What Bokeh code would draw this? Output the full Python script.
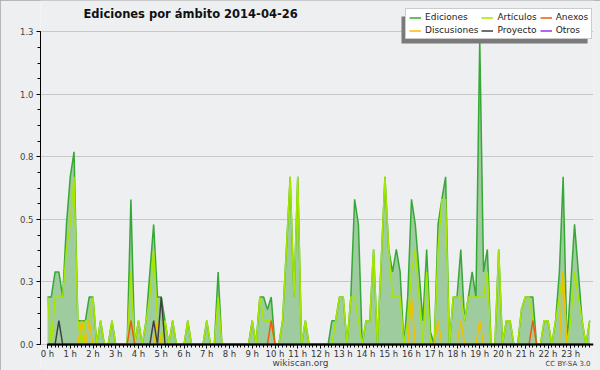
import math
from bokeh.plotting import figure
from bokeh.models import Range1d, FixedTicker, Label, Legend, LegendItem, BoxAnnotation
from bokeh.embed import file_html
from bokeh.resources import INLINE

# ---- data: edits per minute, 10-minute bins over 2014-04-26 ----
ediciones = [
    0.19, 0.19, 0.29, 0.29, 0.19, 0.48, 0.67, 0.77, 0.095, 0.095,
    0.095, 0.19, 0.19, 0, 0.095, 0, 0, 0.095, 0, 0,
    0, 0, 0.58, 0, 0.095, 0, 0.095, 0.29, 0.48, 0.19,
    0.19, 0.095, 0, 0.095, 0, 0, 0, 0.095, 0, 0,
    0, 0, 0.095, 0, 0, 0.29, 0, 0, 0, 0,
    0, 0, 0, 0, 0.095, 0, 0.19, 0.19, 0.14, 0.19,
    0, 0, 0.095, 0.38, 0.67, 0.19, 0.67, 0, 0.095, 0,
    0, 0, 0, 0, 0, 0.095, 0.095, 0.19, 0.19, 0,
    0.19, 0.58, 0.48, 0, 0.095, 0.095, 0.38, 0, 0.33, 0.67,
    0.38, 0.29, 0.38, 0.29, 0, 0.19, 0.58, 0.48, 0.29, 0.095,
    0.38, 0.05, 0, 0.48, 0.58, 0.67, 0, 0.19, 0.19, 0.38,
    0.095, 0.19, 0.29, 0.19, 1.22, 0.29, 0.38, 0, 0, 0.38,
    0, 0.095, 0.095, 0, 0, 0.14, 0.19, 0.19, 0.19, 0,
    0, 0.095, 0.095, 0, 0.095, 0.29, 0.67, 0, 0.24, 0.48,
    0.29, 0.095, 0, 0.095,
]
articulos = [
    0.19, 0, 0.19, 0.19, 0.19, 0.38, 0.48, 0.67, 0.095, 0,
    0.095, 0.095, 0.19, 0, 0.095, 0, 0, 0.095, 0, 0,
    0, 0, 0.29, 0, 0.095, 0, 0.095, 0.19, 0.38, 0.095,
    0, 0.095, 0, 0.095, 0, 0, 0, 0.095, 0, 0,
    0, 0, 0.095, 0, 0, 0.19, 0, 0, 0, 0,
    0, 0, 0, 0, 0.095, 0, 0.19, 0.095, 0.095, 0.095,
    0, 0, 0.095, 0.38, 0.67, 0.19, 0.67, 0, 0.095, 0,
    0, 0, 0, 0, 0, 0, 0.095, 0.19, 0.19, 0,
    0.19, 0.19, 0.095, 0, 0.095, 0.095, 0.38, 0, 0.33, 0.67,
    0.38, 0.19, 0.19, 0.19, 0, 0.095, 0.29, 0.38, 0.19, 0,
    0.29, 0, 0, 0.38, 0.58, 0.58, 0, 0.19, 0.19, 0.19,
    0.095, 0.19, 0.19, 0.19, 0.19, 0.19, 0.29, 0, 0, 0.38,
    0, 0.095, 0.095, 0, 0, 0.14, 0.19, 0.19, 0.095, 0,
    0, 0.095, 0.095, 0, 0.095, 0.19, 0.29, 0, 0.095, 0.29,
    0.19, 0.095, 0, 0.095,
]
anexos = [
    0, 0, 0, 0, 0, 0, 0, 0, 0, 0,
    0, 0, 0, 0, 0, 0, 0, 0, 0, 0,
    0, 0, 0.095, 0, 0, 0, 0, 0, 0, 0,
    0, 0, 0, 0, 0, 0, 0, 0, 0, 0,
    0, 0, 0, 0, 0, 0, 0, 0, 0, 0,
    0, 0, 0, 0, 0, 0, 0, 0, 0, 0.095,
    0, 0, 0, 0, 0, 0, 0, 0, 0, 0,
    0, 0, 0, 0, 0, 0, 0, 0, 0, 0,
    0, 0, 0, 0, 0, 0, 0, 0, 0, 0,
    0, 0, 0, 0, 0, 0, 0, 0, 0, 0,
    0, 0, 0, 0, 0, 0, 0, 0, 0, 0,
    0, 0, 0, 0, 0, 0, 0, 0, 0, 0,
    0, 0, 0, 0, 0, 0, 0, 0, 0.095, 0,
    0, 0, 0, 0, 0, 0, 0, 0, 0, 0,
    0, 0, 0, 0,
]
discusiones = [
    0, 0, 0, 0, 0, 0, 0, 0, 0, 0.095,
    0, 0.095, 0, 0, 0, 0, 0, 0, 0, 0,
    0, 0, 0, 0, 0, 0, 0, 0, 0, 0.095,
    0, 0, 0, 0, 0, 0, 0, 0, 0, 0,
    0, 0, 0, 0, 0, 0, 0, 0, 0, 0,
    0, 0, 0, 0, 0, 0, 0, 0, 0, 0,
    0, 0, 0, 0, 0, 0, 0, 0, 0, 0,
    0, 0, 0, 0, 0, 0, 0, 0, 0, 0,
    0, 0, 0, 0, 0, 0, 0, 0, 0, 0,
    0, 0, 0, 0, 0, 0, 0.19, 0, 0, 0,
    0, 0, 0, 0.095, 0, 0, 0, 0, 0, 0.095,
    0, 0, 0, 0, 0.095, 0, 0, 0, 0, 0,
    0, 0, 0, 0, 0, 0, 0, 0, 0, 0,
    0, 0, 0, 0, 0, 0, 0.29, 0, 0, 0,
    0, 0, 0, 0,
]
proyecto = [
    0, 0, 0, 0.095, 0, 0, 0, 0, 0, 0,
    0, 0, 0, 0, 0, 0, 0, 0, 0, 0,
    0, 0, 0, 0, 0, 0, 0, 0, 0.095, 0,
    0.19, 0, 0, 0, 0, 0, 0, 0, 0, 0,
    0, 0, 0, 0, 0, 0, 0, 0, 0, 0,
    0, 0, 0, 0, 0, 0, 0, 0, 0, 0,
    0, 0, 0, 0, 0, 0, 0, 0, 0, 0,
    0, 0, 0, 0, 0, 0, 0, 0, 0, 0,
    0, 0, 0, 0, 0, 0, 0, 0, 0, 0,
    0, 0, 0, 0, 0, 0, 0, 0, 0, 0,
    0, 0, 0, 0, 0, 0, 0, 0, 0, 0,
    0, 0, 0, 0, 0, 0, 0, 0, 0, 0,
    0, 0, 0, 0, 0, 0, 0, 0, 0, 0,
    0, 0, 0, 0, 0, 0, 0, 0, 0, 0,
    0, 0, 0, 0,
]
otros = [0] * 144

hours = [i / 6 for i in range(len(ediciones))]   # 10-minute bins, in hours
hour_ticks = list(range(24))
hour_labels = [f"{h} h" for h in hour_ticks]
y_ticks = [0, 0.25, 0.5, 0.75, 1.0, 1.25]
y_labels = ["0.0", "0.3", "0.5", "0.8", "1.0", "1.3"]

FONT = "DejaVu Sans"
BG = "#eeeff1"

p = figure(width=600, height=370, output_backend="svg", toolbar_location=None,
           x_range=Range1d(-0.3077, 24), y_range=Range1d(-0.1039, 1.375),
           min_border_left=40, min_border_right=7, min_border_top=0,
           min_border_bottom=0)
p.title.visible = False
p.background_fill_color = BG
p.border_fill_color = BG
p.outline_line_color = None
p.styles = {"outline": "1px solid #a4a4a4", "outline-offset": "-1px"}

# area + lines
p.varea(x=hours, y1=0, y2=ediciones, fill_color="#9fcc9f", fill_alpha=1)
r_ed = p.line(hours, ediciones, line_color="#36a836", line_width=1.5)
r_art = p.line(hours, articulos, line_color="#a6e600", line_width=1.5)
r_disc = p.line(hours, discusiones, line_color="#f0c000", line_width=1.5)
r_anx = p.line(hours, anexos, line_color="#ec5a14", line_width=1.5)
r_proy = p.line(hours, proyecto, line_color="#404040", line_width=1.5)
r_otros = p.line(hours, otros, line_color="#9933ee", line_width=1.5)

# axes (x axis drawn at y = 0 so the frame can hold the footer texts)
xa = p.xaxis[0]
xa.fixed_location = 0
xa.bounds = (0, 24)
xa.ticker = FixedTicker(ticks=hour_ticks, minor_ticks=hours)
xa.major_label_overrides = {h: lab for h, lab in zip(hour_ticks, hour_labels)}
xa.axis_line_width = 2
xa.axis_line_color = "black"
xa.major_tick_out = 4
xa.major_tick_in = 0
xa.minor_tick_out = 3
xa.minor_tick_in = 0
xa.major_tick_line_color = "black"
xa.minor_tick_line_color = "black"
xa.major_label_standoff = 0
xa.major_label_text_font = FONT
xa.major_label_text_font_size = "8.5px"
xa.major_label_text_color = "#333333"

ya = p.yaxis[0]
ya.ticker = FixedTicker(ticks=y_ticks, minor_ticks=[i / 16 for i in range(21)])
ya.major_label_overrides = {t: lab for t, lab in zip(y_ticks, y_labels)}
ya.bounds = (0, 1.25)
ya.axis_line_color = "black"
ya.major_tick_out = 4
ya.major_tick_in = 0
ya.minor_tick_out = 3
ya.minor_tick_in = 0
ya.major_label_standoff = 3
ya.major_label_text_font = FONT
ya.major_label_text_font_size = "8.5px"
ya.major_label_text_color = "#444444"

p.xgrid.visible = False
p.ygrid.grid_line_color = "#c8c8c8"
p.ygrid.grid_line_width = 1

# texts
p.add_layout(Label(x=1.58, y=1.323, text="Ediciones por ámbito  2014-04-26",
                   text_font=FONT, text_font_size="11.5px", text_font_style="bold",
                   text_baseline="middle", text_color="#111111"))
p.add_layout(Label(x=-1.63, y=0.623, text="Ediciones/min", angle=math.pi / 2,
                   text_align="center", text_baseline="middle",
                   text_font=FONT, text_font_size="11px", text_color="#222222"))
p.add_layout(Label(x=11.12, y=-0.074, text="wikiscan.org", text_align="center",
                   text_font=FONT, text_font_size="9px", text_baseline="middle",
                   text_color="#444444"))
p.add_layout(Label(x=23.87, y=-0.076, text="CC BY-SA 3.0", text_align="right",
                   text_font=FONT, text_font_size="7px", text_baseline="middle",
                   text_color="#444444"))

# legend shadow + legend
p.add_layout(BoxAnnotation(left=15.56, right=23.74, top=1.311, bottom=1.203,
                           fill_color="#7a7a7a", fill_alpha=1, line_color=None))
legend = Legend(items=[
    LegendItem(label="Ediciones", renderers=[r_ed]),
    LegendItem(label="Artículos", renderers=[r_art]),
    LegendItem(label="Anexos", renderers=[r_anx]),
    LegendItem(label="Discusiones", renderers=[r_disc]),
    LegendItem(label="Proyecto", renderers=[r_proy]),
    LegendItem(label="Otros", renderers=[r_otros]),
], location=(365, 331), orientation="horizontal", ncols=3)
legend.label_text_font = FONT
legend.label_text_font_size = "9px"
legend.label_text_color = "#222222"
legend.label_height = 9
legend.glyph_height = 9
legend.glyph_width = 12
legend.label_standoff = 4
legend.spacing = 3
legend.padding = 3
legend.margin = 0
legend.border_line_color = "#999999"
legend.border_line_width = 1
legend.background_fill_color = "white"
legend.background_fill_alpha = 1
p.add_layout(legend)

open("out.html", "w").write(file_html(p, INLINE))
